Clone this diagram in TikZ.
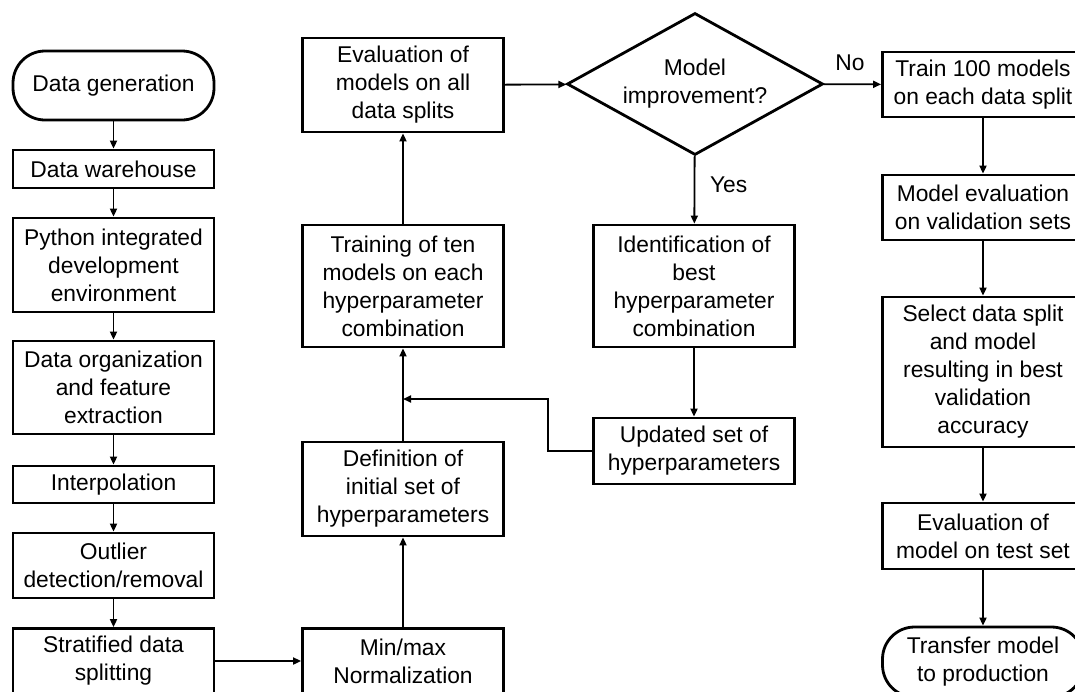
\documentclass[tikz,border=0pt]{standalone}
\usepackage{fontspec}
\setmainfont{Liberation Sans}
\usepackage{tikz}
\usetikzlibrary{shapes.geometric, positioning, arrows.meta}

\begin{document}
\begin{tikzpicture}[
    x=0.5pt, y=-0.5pt,
    font=\fontsize{11.4}{14}\selectfont,
    box/.style={rectangle, draw, line width=1.4pt, minimum width=100.5pt, align=center, inner sep=1pt},
    term/.style={box, rounded corners=16pt},
    decision/.style={diamond, draw, line width=1.4pt, minimum width=128pt, minimum height=71pt, aspect=1.8, inner sep=0pt, align=center},
    arrow/.style={-{Triangle[length=4pt, width=3.5pt]}, line width=0.9pt}
]
    \path[use as bounding box, clip] (0,0) rectangle (1075,691);

    % Data preparation
    \node[term, minimum height=34.5pt] (gen) at (113.5, 85.5) {Data generation};
    \node[box, minimum height=19pt] (wh) at (113.5, 169) {Data warehouse};
    \node[box, minimum height=47pt] (ide) at (113.5, 265) {Python integrated\\development\\environment};
    \node[box, minimum height=46.5pt] (org) at (113.5, 387.5) {Data organization\\and feature\\extraction};
    \node[box, minimum height=18.5pt] (interp) at (113.5, 484.5) {Interpolation};
    \node[box, minimum height=32.5pt] (outl) at (113.5, 565.5) {Outlier\\detection/removal};
    \node[box, minimum height=32.5pt] (strat) at (113.5, 661) {Stratified data\\splitting};

    \draw[arrow] (gen) -- (wh);
    \draw[arrow] (wh) -- (ide);
    \draw[arrow] (ide) -- (org);
    \draw[arrow] (org) -- (interp);
    \draw[arrow] (interp) -- (outl);
    \draw[arrow] (outl) -- (strat);

    % Hyperparameter search
    \node[box, minimum height=32.5pt] (norm) at (403, 661) {Min/max\\Normalization};
    \node[box, minimum height=47pt] (definit) at (403, 489) {Definition of\\initial set of\\hyperparameters};
    \node[box, minimum height=61pt] (train) at (403, 286) {Training of ten\\models on each\\hyperparameter\\combination};
    \node[box, minimum height=47pt] (evalall) at (403, 85) {Evaluation of\\models on all\\data splits};
    \node[decision] (dia) at (695, 84) {Model\\improvement?};
    \node[box, minimum height=61pt] (ident) at (694, 286) {Identification of\\best\\hyperparameter\\combination};
    \node[box, minimum height=33pt] (upd) at (694, 451) {Updated set of\\hyperparameters};
    \coordinate (join) at (403, 399);

    \draw[arrow] (strat) -- (norm);
    \draw[arrow] (norm) -- (definit);
    \draw[arrow] (definit) -- (train);
    \draw[arrow] (train) -- (evalall);
    \draw[arrow] (evalall) -- (dia);
    \draw[arrow] (dia) -- (ident);
    \draw[arrow] (ident) -- (upd);
    \draw[arrow] (upd.west) -- ++(-44, 0) |- (join);

    \node[anchor=west] (yes) at (703, 185) {Yes};

    % Final training
    \node[box, minimum height=32.5pt] (train100) at (983, 84.5) {Train 100 models\\on each data split};
    \node[box, minimum height=32.5pt] (valeval) at (983, 207.5) {Model evaluation\\on validation sets};
    \node[box, minimum height=75pt] (select) at (983, 372) {Select data split\\and model\\resulting in best\\validation\\accuracy};
    \node[box, minimum height=33pt] (testeval) at (983, 536) {Evaluation of\\model on test set};
    \node[term, minimum height=35pt] (transfer) at (983, 662) {Transfer model\\to production};

    \draw[arrow] (dia) -- (train100);
    \node (no) at (850, 63) {No};
    \draw[arrow] (train100) -- (valeval);
    \draw[arrow] (valeval) -- (select);
    \draw[arrow] (select) -- (testeval);
    \draw[arrow] (testeval) -- (transfer);
\end{tikzpicture}
\end{document}
